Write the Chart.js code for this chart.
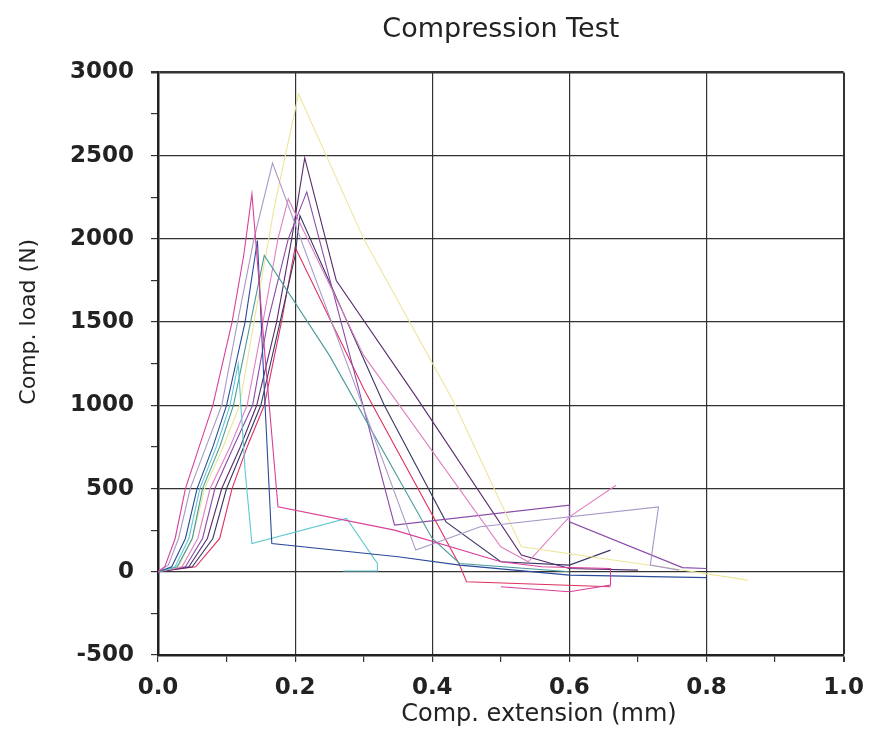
<!DOCTYPE html>
<html>
<head>
<meta charset="utf-8">
<title>Compression Test</title>
<script src="https://cdn.jsdelivr.net/npm/chart.js@4.4.0/dist/chart.umd.min.js"></script>
<style>
    body { margin: 0; background: #fff; }
    .chart-wrap { width: 876px; height: 749px; position: relative; }
</style>
</head>
<body>
<div class="chart-wrap"><canvas id="compressionChart"></canvas></div>
<script>
// extension (mm) / load (N) for each specimen
const magentaExt = [0, 0.01, 0.025, 0.04, 0.06, 0.08, 0.108, 0.125, 0.137, 0.156, 0.175, 0.345, 0.5, 0.56, 0.66, 0.66, 0.6, 0.5];
const magentaLoad = [0, 30, 200, 500, 750, 1000, 1500, 1900, 2270, 1300, 390, 250, 60, 30, 20, -80, -120, -90];

const lavenderExt = [0, 0.015, 0.03, 0.047, 0.07, 0.093, 0.116, 0.14, 0.167, 0.294, 0.376, 0.47, 0.73, 0.718, 0.76];
const lavenderLoad = [0, 40, 200, 500, 750, 1000, 1500, 2000, 2455, 1048, 130, 270, 390, 40, 10];

const blueExt = [0, 0.02, 0.04, 0.057, 0.08, 0.1, 0.127, 0.145, 0.155, 0.166, 0.35, 0.44, 0.6, 0.8];
const blueLoad = [0, 30, 200, 500, 750, 1000, 1500, 1990, 1100, 170, 90, 40, -20, -35];

const cyanExt = [0, 0.025, 0.045, 0.061, 0.085, 0.105, 0.117, 0.127, 0.137, 0.275, 0.32, 0.32, 0.27];
const cyanLoad = [0, 30, 200, 500, 750, 1000, 1250, 610, 170, 320, 50, 5, 5];

const tealExt = [0, 0.028, 0.05, 0.065, 0.09, 0.11, 0.135, 0.155, 0.25, 0.4, 0.44, 0.6];
const tealLoad = [0, 30, 200, 500, 750, 1000, 1500, 1900, 1300, 200, 50, 0];

const yellowExt = [0, 0.03, 0.05, 0.068, 0.095, 0.119, 0.14, 0.17, 0.205, 0.3, 0.43, 0.53, 0.75, 0.86];
const yellowLoad = [0, 30, 200, 500, 750, 1000, 1500, 2200, 2870, 2000, 1030, 150, 20, -50];

const pinkExt = [0, 0.035, 0.058, 0.076, 0.105, 0.13, 0.153, 0.175, 0.19, 0.3, 0.5, 0.54, 0.6, 0.668];
const pinkLoad = [0, 30, 200, 500, 750, 1000, 1500, 2000, 2240, 1300, 150, 60, 330, 520];

const purpleExt = [0, 0.04, 0.065, 0.083, 0.11, 0.138, 0.16, 0.19, 0.217, 0.345, 0.6, 0.6, 0.765, 0.8];
const purpleLoad = [0, 30, 200, 500, 750, 1000, 1500, 2000, 2282, 280, 400, 300, 25, 20];

const plumExt = [0, 0.045, 0.072, 0.093, 0.12, 0.144, 0.173, 0.195, 0.214, 0.26, 0.377, 0.53, 0.6, 0.7];
const plumLoad = [0, 30, 200, 500, 750, 1000, 1500, 2000, 2486, 1750, 1048, 100, 20, 10];

const navyExt = [0, 0.05, 0.08, 0.1, 0.125, 0.15, 0.178, 0.2, 0.207, 0.33, 0.42, 0.5, 0.6, 0.66];
const navyLoad = [0, 30, 200, 500, 750, 1000, 1500, 1900, 2140, 1000, 300, 60, 40, 130];

const redExt = [0, 0.055, 0.09, 0.108, 0.13, 0.155, 0.18, 0.2, 0.3, 0.44, 0.45, 0.66];
const redLoad = [0, 30, 200, 500, 750, 1000, 1500, 1950, 1100, 40, -60, -90];

const specimens = [
    { ext: magentaExt, load: magentaLoad, color: '#d8409a' },
    { ext: lavenderExt, load: lavenderLoad, color: '#a898c8' },
    { ext: blueExt, load: blueLoad, color: '#2a4a9a' },
    { ext: cyanExt, load: cyanLoad, color: '#60c8d0' },
    { ext: tealExt, load: tealLoad, color: '#4a9a9a' },
    { ext: yellowExt, load: yellowLoad, color: '#ece69a' },
    { ext: pinkExt, load: pinkLoad, color: '#e080c0' },
    { ext: purpleExt, load: purpleLoad, color: '#8a4aa8' },
    { ext: plumExt, load: plumLoad, color: '#5a2a6a' },
    { ext: navyExt, load: navyLoad, color: '#383868' },
    { ext: redExt, load: redLoad, color: '#e03060' }
];

const datasets = specimens.map(s => ({
    data: s.ext.map((x, i) => ({ x: x, y: s.load[i] })),
    borderColor: s.color,
    borderWidth: 1.1,
    pointRadius: 0,
    showLine: true,
    tension: 0,
    fill: false
}));

const isMajorY = v => Math.abs(v % 500) < 1e-6;
const isMajorX = v => Math.round(v * 10) % 2 === 0;

new Chart(document.getElementById('compressionChart'), {
    type: 'scatter',
    data: { datasets: datasets },
    options: {
        responsive: true,
        maintainAspectRatio: false,
        animation: false,
        layout: { padding: { left: 0, right: 31, top: 0, bottom: 0 } },
        plugins: {
            legend: { display: false },
            tooltip: { enabled: false },
            title: {
                display: true,
                fullSize: false,
                text: 'Compression Test',
                color: '#222',
                font: { family: 'DejaVu Sans', size: 27, weight: 'normal' },
                padding: { top: 14, bottom: 26 }
            }
        },
        scales: {
            x: {
                type: 'linear',
                min: 0,
                max: 1,
                afterFit: scale => { scale.height = 94; },
                ticks: {
                    stepSize: 0.1,
                    autoSkip: false,
                    maxRotation: 0,
                    color: '#222',
                    padding: 12,
                    font: { family: 'DejaVu Sans', size: 23, weight: 'bold' },
                    callback: v => isMajorX(v) ? v.toFixed(1) : ''
                },
                grid: {
                    color: c => (c.tick && isMajorX(c.tick.value)) ? '#333' : 'rgba(0,0,0,0)',
                    tickColor: '#333',
                    tickLength: 7,
                    lineWidth: c => (c.tick && c.tick.value >= 0.999) ? 2 : 1.2
                },
                border: { color: '#222', width: 2.5 },
                title: {
                    display: true,
                    // leading spaces nudge the label right like the scan
                    text: '          Comp. extension (mm)',
                    color: '#222',
                    font: { family: 'DejaVu Sans', size: 24 },
                    padding: { top: 4, bottom: 20 }
                }
            },
            y: {
                type: 'linear',
                min: -500,
                max: 3000,
                afterFit: scale => { scale.width = 158; },
                ticks: {
                    stepSize: 250,
                    autoSkip: false,
                    color: '#222',
                    padding: 17,
                    font: { family: 'DejaVu Sans', size: 23, weight: 'bold' },
                    callback: v => isMajorY(v) ? String(v) : ''
                },
                grid: {
                    color: c => (c.tick && isMajorY(c.tick.value)) ? '#333' : 'rgba(0,0,0,0)',
                    tickColor: '#333',
                    tickLength: 7,
                    lineWidth: c => (c.tick && c.tick.value >= 2999) ? 2.5 : 1.2
                },
                border: { color: '#222', width: 2.5 },
                title: {
                    display: true,
                    // leading spaces lift the label above the axis middle
                    text: '            Comp. load (N)',
                    color: '#222',
                    font: { family: 'DejaVu Sans', size: 22 },
                    padding: { top: 16, bottom: 0 }
                }
            }
        }
    }
});
</script>
</body>
</html>
